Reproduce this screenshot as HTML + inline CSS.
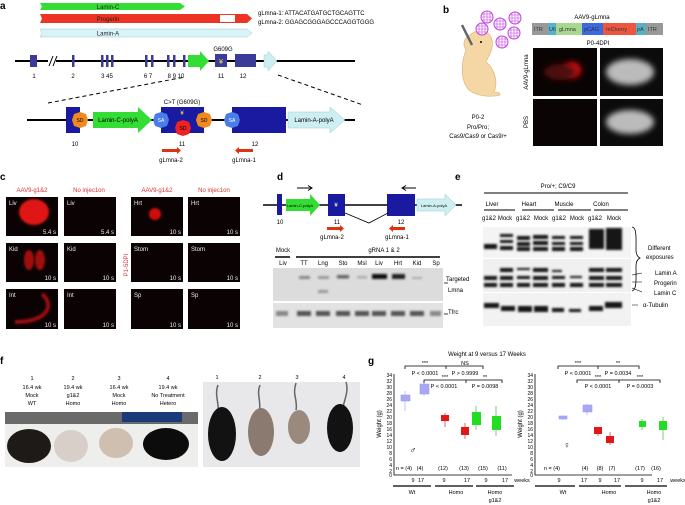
<!DOCTYPE html>
<html><head><meta charset="utf-8"><style>
html,body{margin:0;padding:0;background:#fff}
svg{display:block}
text{font-family:"Liberation Sans",Arial,sans-serif;}
</style></head><body>
<svg width="685" height="505" viewBox="0 0 685 505" xmlns="http://www.w3.org/2000/svg">
<defs>
<filter id="bl" x="-50%" y="-50%" width="200%" height="200%"><feGaussianBlur stdDeviation="3"/></filter>
<filter id="bl1" x="-50%" y="-50%" width="200%" height="200%"><feGaussianBlur stdDeviation="1"/></filter>
<g id="virus"><circle r="6" fill="#fff" stroke="#c040e0" stroke-width="1"/><path d="M-6,0H6M-5,-3H5M-5,3H5M-3,-5L-3,5M0,-6V6M3,-5V5" stroke="#c040e0" stroke-width="0.6"/></g>
</defs>
<rect width="685" height="505" fill="#fff"/>

<!-- ===== a ===== -->
<text x="0" y="9" font-size="10" font-weight="bold">a</text>
<polygon points="40,3 180,3 185,6.5 180,10 40,10 42,6.5" fill="#33dd33"/>
<text x="108" y="9" font-size="6" text-anchor="middle" fill="#222">Lamin-C</text>
<polygon points="40,14 247,14 252,18.5 247,23 40,23 42,18.5" fill="#ee3322"/>
<rect x="220" y="15" width="15" height="7" fill="#fff"/>
<text x="108" y="21" font-size="6" text-anchor="middle" fill="#222">Progerin</text>
<polygon points="40,29 247,29 252,33 247,37 40,37 42,33" fill="#d8f4f8" stroke="#9cc" stroke-width="0.5"/>
<text x="108" y="35.5" font-size="6" text-anchor="middle" fill="#222">Lamin-A</text>
<text x="258" y="15" font-size="6">gLmna-1: ATTACATGATGCTGCAGTTC</text>
<text x="258" y="24" font-size="6">gLmna-2: GGAGCGGGAGCCCAGGTGGG</text>

<line x1="15" y1="61" x2="355" y2="61" stroke="#000" stroke-width="2"/>
<g fill="#3b3b9a">
<rect x="30" y="55" width="7" height="12"/>
<rect x="72" y="55" width="2.5" height="12"/>
<rect x="101" y="55" width="2.5" height="12"/><rect x="106" y="55" width="2.5" height="12"/><rect x="111" y="55" width="2.5" height="12"/>
<rect x="145" y="55" width="2.5" height="12"/><rect x="151" y="55" width="2.5" height="12"/>
<rect x="167" y="55" width="2.5" height="12"/><rect x="173" y="55" width="2.5" height="12"/><rect x="183" y="55" width="2.5" height="12"/>
<rect x="215" y="54" width="12" height="13"/>
<rect x="235" y="54" width="21" height="13"/>
</g>
<rect x="48" y="56" width="8" height="10" fill="#fff"/>
<path d="M49,66L53,56M53,66L57,56" stroke="#000" stroke-width="1"/>
<polygon points="188,55 200,55 200,51 209,61 200,71 200,67 188,67" fill="#33dd33"/>
<polygon points="264,55 268,55 268,51 277,61 268,71 268,67 264,67" fill="#cdeff2" stroke="#9cc" stroke-width="0.5"/>
<text x="221" y="64" font-size="7" fill="#ee4" text-anchor="middle">¥</text>
<text x="223" y="51" font-size="6" text-anchor="middle">G609G</text>
<g font-size="6" text-anchor="middle">
<text x="34" y="78">1</text><text x="73" y="78">2</text><text x="107" y="78">3 45</text><text x="148" y="78">6 7</text><text x="176" y="78">8 9 10</text><text x="221" y="78">11</text><text x="243" y="78">12</text></g>
<path d="M48,103L185,77M278,75L363,105" stroke="#000" stroke-width="1" stroke-dasharray="4,3"/>

<line x1="27" y1="120" x2="355" y2="120" stroke="#000" stroke-width="2"/>
<rect x="66" y="107" width="14" height="26" fill="#1a1aa0"/>
<polygon points="93,112 138,112 138,107 152,120 138,133 138,128 93,128" fill="#33dd33"/>
<text x="118" y="122" font-size="6" text-anchor="middle">Lamin-C-polyA</text>
<rect x="161" y="107" width="43" height="26" fill="#1a1aa0"/>
<rect x="232" y="107" width="54" height="26" fill="#1a1aa0"/>
<polygon points="288,112 330,112 330,107 345,120 330,133 330,128 288,128" fill="#cdeff2" stroke="#9cc" stroke-width="0.5"/>
<text x="314" y="122" font-size="6" text-anchor="middle">Lamin-A-polyA</text>
<polygon points="80,112 86,114 88,120 86,126 80,128 74,126 72,120 74,114" fill="#f08a20"/><text x="80" y="122" font-size="5" text-anchor="middle">SD</text>
<polygon points="161,112 167,114 169,120 167,126 161,128 155,126 153,120 155,114" fill="#4a7de8"/><text x="161" y="122" font-size="5" text-anchor="middle" fill="#fff">SA</text>
<polygon points="183,120 189,122 191,128 189,134 183,136 177,134 175,128 177,122" fill="#ee2222"/><text x="183" y="130" font-size="5" text-anchor="middle">SD</text>
<polygon points="204,112 210,114 212,120 210,126 204,128 198,126 196,120 198,114" fill="#f08a20"/><text x="204" y="122" font-size="5" text-anchor="middle">SD</text>
<polygon points="232,112 238,114 240,120 238,126 232,128 226,126 224,120 226,114" fill="#4a7de8"/><text x="232" y="122" font-size="5" text-anchor="middle" fill="#fff">SA</text>
<text x="182" y="115" font-size="6" fill="#ee4" text-anchor="middle">¥</text>
<text x="182" y="104" font-size="6" text-anchor="middle">C&gt;T (G609G)</text>
<g font-size="6" text-anchor="middle"><text x="75" y="146">10</text><text x="182" y="146">11</text><text x="255" y="146">12</text></g>
<polygon points="162,149 177,149 177,147 181,150.5 177,154 177,152 162,152" fill="#dd3311"/>
<polygon points="253,149 239,149 239,147 235,150.5 239,154 239,152 253,152" fill="#dd3311"/>
<text x="171" y="162" font-size="6" text-anchor="middle">gLmna-2</text>
<text x="244" y="162" font-size="6" text-anchor="middle">gLmna-1</text>

<!-- ===== b ===== -->
<text x="443" y="13" font-size="10" font-weight="bold">b</text>
<path d="M470,35 C478,28 490,30 492,40 C494,50 488,56 486,62 C496,70 498,84 494,92 C502,92 502,96 495,96 C482,97 470,94 466,86 C460,76 462,60 466,50 C462,44 464,38 470,35Z" fill="#f4d7a4" stroke="#d4b07a" stroke-width="0.6"/>
<circle cx="481" cy="42" r="1" fill="#000"/>
<line x1="462" y1="25" x2="472" y2="45" stroke="#666" stroke-width="2.5"/>
<use href="#virus" x="487" y="17"/><use href="#virus" x="515" y="18"/><use href="#virus" x="482" y="29"/><use href="#virus" x="500" y="24"/><use href="#virus" x="514" y="33"/><use href="#virus" x="502" y="42"/>
<text x="478" y="119" font-size="6" text-anchor="middle">P0-2</text>
<text x="478" y="129" font-size="6" text-anchor="middle">Pro/Pro;</text>
<text x="478" y="138" font-size="6" text-anchor="middle">Cas9/Cas9 or Cas9/+</text>
<text x="592" y="19" font-size="6" text-anchor="middle">AAV9-gLmna</text>
<rect x="532" y="23" width="16" height="12" fill="#999"/><rect x="548" y="23" width="8" height="12" fill="#5ab0d0"/>
<rect x="556" y="23" width="26" height="12" fill="#a8d890"/><rect x="582" y="23" width="21" height="12" fill="#3a6ae0"/>
<rect x="603" y="23" width="33" height="12" fill="#ee5540"/><rect x="636" y="23" width="10" height="12" fill="#5ab0c0"/><rect x="646" y="23" width="17" height="12" fill="#999"/>
<g font-size="5.5" fill="#333"><text x="534" y="31">ITR</text><text x="549" y="31">U6</text><text x="559" y="31">gLmna</text><text x="584" y="31">pCAG</text><text x="606" y="31">mCherry</text><text x="637" y="31">pA</text><text x="648" y="31">ITR</text></g>
<text x="598" y="45" font-size="6" text-anchor="middle">P0-4DPI</text>
<rect x="533" y="48" width="64" height="48" fill="#0a0303"/>
<ellipse cx="572" cy="70" rx="9" ry="8" fill="#e01010" filter="url(#bl)"/>
<ellipse cx="560" cy="72" rx="16" ry="8" fill="#501010" filter="url(#bl)"/>
<rect x="600" y="48" width="63" height="48" fill="#0b0b0b"/>
<ellipse cx="630" cy="72" rx="24" ry="13" fill="#bbb" filter="url(#bl)"/>
<rect x="533" y="99" width="64" height="47" fill="#0a0404"/>
<rect x="600" y="99" width="63" height="47" fill="#0b0b0b"/>
<ellipse cx="630" cy="122" rx="24" ry="12" fill="#bbb" filter="url(#bl)"/>
<text transform="translate(528,72) rotate(-90)" font-size="6" text-anchor="middle">AAV9-gLmna</text>
<text transform="translate(528,122) rotate(-90)" font-size="6" text-anchor="middle">PBS</text>

<!-- ===== c ===== -->
<text x="0" y="180" font-size="10" font-weight="bold">c</text>
<g font-size="6" fill="#e03030" text-anchor="middle">
<text x="32" y="192">AAV9-g1&amp;2</text><text x="89" y="192">No injec1on</text><text x="157" y="192">AAV9-g1&amp;2</text><text x="214" y="192">No injec1on</text></g>
<text transform="translate(128,265) rotate(-90)" font-size="6" fill="#e03030" text-anchor="middle">P1-5DPI</text>
<g fill="#0b0303">
<rect x="6" y="197" width="52" height="39"/><rect x="64" y="197" width="52" height="39"/><rect x="131" y="197" width="52" height="39"/><rect x="188" y="197" width="52" height="39"/>
<rect x="6" y="243" width="52" height="39"/><rect x="64" y="243" width="52" height="39"/><rect x="131" y="243" width="52" height="39"/><rect x="188" y="243" width="52" height="39"/>
<rect x="6" y="289" width="52" height="40"/><rect x="64" y="289" width="52" height="40"/><rect x="131" y="289" width="52" height="40"/><rect x="188" y="289" width="52" height="40"/>
</g>
<ellipse cx="34" cy="212" rx="15" ry="13" fill="#e01515" filter="url(#bl1)"/>
<ellipse cx="155" cy="214" rx="6" ry="6" fill="#d01010" filter="url(#bl1)"/>
<ellipse cx="29" cy="260" rx="5" ry="10" fill="#a01010" filter="url(#bl1)"/><ellipse cx="40" cy="260" rx="5" ry="10" fill="#a01010" filter="url(#bl1)"/>
<path d="M42,294 C55,305 48,322 15,322" stroke="#9a1010" stroke-width="4" fill="none" filter="url(#bl1)"/>
<g font-size="6" fill="#eee">
<text x="9" y="205">Liv</text><text x="67" y="205">Liv</text><text x="134" y="205">Hrt</text><text x="191" y="205">Hrt</text>
<text x="9" y="251">Kid</text><text x="67" y="251">Kid</text><text x="134" y="251">Stom</text><text x="191" y="251">Stom</text>
<text x="9" y="297">Int</text><text x="67" y="297">Int</text><text x="134" y="297">Sp</text><text x="191" y="297">Sp</text>
<text x="56" y="234" text-anchor="end">5.4 s</text><text x="114" y="234" text-anchor="end">5.4 s</text><text x="181" y="234" text-anchor="end">10 s</text><text x="238" y="234" text-anchor="end">10 s</text>
<text x="56" y="280" text-anchor="end">10 s</text><text x="114" y="280" text-anchor="end">10 s</text><text x="181" y="280" text-anchor="end">10 s</text><text x="238" y="280" text-anchor="end">10 s</text>
<text x="56" y="327" text-anchor="end">10 s</text><text x="114" y="327" text-anchor="end">10 s</text><text x="181" y="327" text-anchor="end">10 s</text><text x="238" y="327" text-anchor="end">10 s</text></g>

<!-- ===== d ===== -->
<text x="277" y="180" font-size="10" font-weight="bold">d</text>
<line x1="263" y1="205" x2="462" y2="205" stroke="#000" stroke-width="1.5"/>
<rect x="277" y="194" width="5" height="21" fill="#1a1aa0"/>
<polygon points="286,199 310,199 310,194 320,205 310,216 310,211 286,211" fill="#33dd33"/>
<text x="300" y="207" font-size="4" text-anchor="middle">Lamin-C-polyA</text>
<rect x="328" y="194" width="17" height="22" fill="#1a1aa0"/><text x="336" y="207" font-size="6" fill="#fff" text-anchor="middle">¥</text>
<rect x="387" y="194" width="28" height="22" fill="#1a1aa0"/>
<polygon points="417,199 445,199 445,194 456,205 445,216 445,211 417,211" fill="#cdeff2" stroke="#9cc" stroke-width="0.5"/>
<text x="434" y="207" font-size="4" text-anchor="middle">Lamin-A-polyA</text>
<path d="M345,213L369,223L388,213" stroke="#000" stroke-width="0.8" fill="none"/>
<path d="M297,188H311M308,185.5L312,188L308,190.5" stroke="#000" stroke-width="1" fill="none"/>
<path d="M403,188H416M406,185.5L402,188L406,190.5" stroke="#000" stroke-width="1" fill="none"/>
<g font-size="6" text-anchor="middle"><text x="280" y="224">10</text><text x="337" y="224">11</text><text x="401" y="224">12</text></g>
<polygon points="327,227 340,227 340,225 344,228.5 340,232 340,230 327,230" fill="#dd3311"/>
<polygon points="405,227 393,227 393,225 389,228.5 393,232 393,230 405,230" fill="#dd3311"/>
<text x="332" y="239" font-size="6" text-anchor="middle">gLmna-2</text>
<text x="397" y="239" font-size="6" text-anchor="middle">gLmna-1</text>
<text x="283" y="252" font-size="6" text-anchor="middle">Mock</text>
<text x="384" y="252" font-size="6" text-anchor="middle">gRNA 1 &amp; 2</text>
<line x1="275" y1="257" x2="290" y2="257" stroke="#000" stroke-width="1.5"/>
<line x1="296" y1="257" x2="440" y2="257" stroke="#000" stroke-width="1.5"/>
<g font-size="6" text-anchor="middle"><text x="283" y="265">Liv</text><text x="304" y="265">TT</text><text x="323" y="265">Lng</text><text x="343" y="265">Sto</text><text x="362" y="265">Msl</text><text x="379" y="265">Liv</text><text x="398" y="265">Hrt</text><text x="417" y="265">Kid</text><text x="436" y="265">Sp</text></g>
<rect x="273" y="268" width="170" height="33" fill="#dcdcdc"/>
<rect x="273" y="303" width="170" height="25" fill="#e2e2e2"/>
<g fill="#444" filter="url(#bl1)">
<rect x="299" y="276" width="11" height="3" fill="#888"/><rect x="318" y="276" width="11" height="3" fill="#999"/><rect x="337" y="275" width="12" height="3.5" fill="#666"/><rect x="357" y="276" width="10" height="2.5" fill="#aaa"/>
<rect x="372" y="274" width="15" height="5" fill="#111"/><rect x="392" y="274" width="13" height="5" fill="#222"/><rect x="412" y="277" width="10" height="2" fill="#aaa"/>
<rect x="318" y="290" width="10" height="3" fill="#999"/>
</g>
<g fill="#555" filter="url(#bl1)">
<rect x="276" y="311" width="12" height="5" fill="#888"/><rect x="297" y="311" width="14" height="5"/><rect x="316" y="311" width="14" height="5"/><rect x="336" y="311" width="14" height="5"/><rect x="355" y="311" width="14" height="5"/><rect x="372" y="311" width="14" height="5"/><rect x="391" y="311" width="14" height="5"/><rect x="410" y="311" width="14" height="5"/><rect x="430" y="311" width="11" height="5" fill="#888"/></g>
<text x="446" y="281" font-size="6">Targeted</text><text x="448" y="292" font-size="6">Lmna</text>
<path d="M444,283h4M444,314h4" stroke="#000" stroke-width="0.8"/>
<text x="448" y="314" font-size="6">Tfrc</text>

<!-- ===== e ===== -->
<text x="455" y="180" font-size="10" font-weight="bold">e</text>
<text x="558" y="188" font-size="6" text-anchor="middle">Pro/+; C9/C9</text>
<line x1="484" y1="193" x2="628" y2="193" stroke="#000" stroke-width="1"/>
<g font-size="6" text-anchor="middle"><text x="492" y="206">Liver</text><text x="529" y="206">Heart</text><text x="564" y="206">Muscle</text><text x="601" y="206">Colon</text></g>
<path d="M484,210h31M522,210h32M558,210h33M594,210h34" stroke="#000" stroke-width="1"/>
<g font-size="6" text-anchor="middle"><text x="489" y="220">g1&amp;2</text><text x="505" y="220">Mock</text><text x="523" y="220">g1&amp;2</text><text x="541" y="220">Mock</text><text x="559" y="220">g1&amp;2</text><text x="577" y="220">Mock</text><text x="595" y="220">g1&amp;2</text><text x="614" y="220">Mock</text></g>
<rect x="483" y="227" width="148" height="31" fill="#f4f4f4"/>
<rect x="483" y="259" width="148" height="33" fill="#f0f0f0"/>
<rect x="483" y="293" width="148" height="33" fill="#f2f2f2"/>
<g fill="#151515" filter="url(#bl1)">
<rect x="484" y="244" width="13" height="5"/>
<rect x="500" y="234" width="13" height="3"/><rect x="500" y="240" width="13" height="3"/><rect x="500" y="246" width="13" height="4"/>
<rect x="517" y="236" width="13" height="4"/><rect x="517" y="242" width="13" height="4"/><rect x="517" y="247" width="13" height="4"/>
<rect x="533" y="235" width="15" height="4"/><rect x="533" y="241" width="15" height="4"/><rect x="533" y="247" width="15" height="4"/>
<rect x="552" y="236" width="13" height="3"/><rect x="552" y="242" width="13" height="3"/><rect x="552" y="247" width="13" height="4"/>
<rect x="570" y="236" width="13" height="3"/><rect x="570" y="242" width="13" height="3"/><rect x="570" y="247" width="13" height="4"/>
<rect x="589" y="229" width="15" height="20"/><rect x="606" y="228" width="16" height="22"/>
<rect x="484" y="276" width="13" height="4"/><rect x="484" y="283" width="13" height="4"/>
<rect x="500" y="268" width="13" height="4"/><rect x="500" y="276" width="13" height="4"/><rect x="500" y="283" width="13" height="4"/>
<rect x="517" y="268" width="13" height="2"/><rect x="517" y="276" width="13" height="3"/><rect x="517" y="283" width="13" height="4"/>
<rect x="533" y="268" width="15" height="4"/><rect x="533" y="276" width="15" height="4"/><rect x="533" y="283" width="15" height="4"/>
<rect x="552" y="270" width="10" height="2"/><rect x="552" y="276" width="13" height="3"/><rect x="552" y="283" width="13" height="4"/>
<rect x="570" y="276" width="12" height="2"/><rect x="570" y="283" width="13" height="4"/>
<rect x="589" y="268" width="15" height="4"/><rect x="589" y="276" width="15" height="4"/><rect x="589" y="283" width="15" height="4"/>
<rect x="606" y="268" width="16" height="4"/><rect x="606" y="276" width="16" height="4"/><rect x="606" y="283" width="16" height="4"/>
<rect x="484" y="303" width="15" height="5"/><rect x="501" y="306" width="14" height="5"/><rect x="518" y="306" width="14" height="6"/><rect x="534" y="306" width="14" height="6"/><rect x="552" y="308" width="12" height="4"/><rect x="569" y="309" width="12" height="3"/><rect x="589" y="306" width="14" height="5"/><rect x="605" y="302" width="17" height="6"/>
</g>
<path d="M632,227 C637,227 636,240 636,250 C636,255 638,257 640,258 C638,259 636,261 636,266 C636,278 637,290 632,291" stroke="#000" stroke-width="0.8" fill="none"/>
<text x="648" y="250" font-size="6">Different</text><text x="646" y="259" font-size="6">exposures</text>
<path d="M632,275l10,-2M632,282h10M632,288l10,4M632,305h6" stroke="#000" stroke-width="0.6"/>
<text x="655" y="275" font-size="6">Lamin A</text><text x="654" y="285" font-size="6">Progerin</text><text x="654" y="295" font-size="6">Lamin C</text><text x="643" y="307" font-size="6">α-Tubulin</text>

<!-- ===== f ===== -->
<text x="0" y="364" font-size="10" font-weight="bold">f</text>
<g font-size="5.5" text-anchor="middle">
<text x="32" y="380">1</text><text x="32" y="389">16.4 wk</text><text x="32" y="397">Mock</text><text x="32" y="405">WT</text>
<text x="73" y="380">2</text><text x="73" y="389">19.4 wk</text><text x="73" y="397">g1&amp;2</text><text x="73" y="405">Homo</text>
<text x="119" y="380">3</text><text x="119" y="389">16.4 wk</text><text x="119" y="397">Mock</text><text x="119" y="405">Homo</text>
<text x="168" y="380">4</text><text x="168" y="389">19.4 wk</text><text x="168" y="397">No Treatment</text><text x="168" y="405">Hetero</text>
<text x="217" y="379">1</text><text x="260" y="379">2</text><text x="297" y="379">3</text><text x="344" y="379">4</text></g>
<rect x="5" y="412" width="193" height="55" fill="#eeeeec"/>
<rect x="5" y="412" width="193" height="12" fill="#6a6a6a"/>
<rect x="122" y="412" width="60" height="10" fill="#1a3a7a"/>
<ellipse cx="29" cy="446" rx="22" ry="17" fill="#1e1a18"/>
<ellipse cx="71" cy="446" rx="17" ry="16" fill="#d8d0c8"/>
<ellipse cx="116" cy="443" rx="17" ry="15" fill="#cfbfb0"/>
<ellipse cx="166" cy="444" rx="23" ry="16" fill="#0c0c0c"/>
<rect x="203" y="382" width="157" height="85" fill="#e8e8ea"/>
<path d="M218,385 C214,395 220,405 218,415M260,385 C256,395 262,400 259,415M296,383 C292,395 298,400 296,410M346,382 C350,395 340,405 344,414" stroke="#666" stroke-width="1.5" fill="none"/>
<ellipse cx="222" cy="434" rx="14" ry="27" fill="#121212"/>
<ellipse cx="261" cy="432" rx="13" ry="24" fill="#8a7a70"/>
<ellipse cx="299" cy="427" rx="11" ry="17" fill="#9a8a7e"/>
<ellipse cx="340" cy="428" rx="13" ry="24" fill="#121212"/>

<!-- ===== g ===== -->
<text x="368" y="364" font-size="10" font-weight="bold" font-family="Liberation Serif,serif">g</text>
<text x="487" y="356" font-size="6" text-anchor="middle">Weight at 9 versus 17 Weeks</text>
<!-- left axis -->
<g font-size="5" text-anchor="end">
<text x="392" y="377">34</text><text x="392" y="383">32</text><text x="392" y="389">30</text><text x="392" y="395">28</text><text x="392" y="401">26</text><text x="392" y="407">24</text><text x="392" y="413">22</text><text x="392" y="419">20</text><text x="392" y="425">18</text><text x="392" y="431">16</text><text x="392" y="437">14</text><text x="392" y="443">12</text><text x="392" y="449">10</text><text x="392" y="455">8</text><text x="392" y="461">6</text><text x="392" y="467">4</text><text x="392" y="473">2</text><text x="392" y="477">0</text>
<text x="533" y="377">34</text><text x="533" y="383">32</text><text x="533" y="389">30</text><text x="533" y="395">28</text><text x="533" y="401">26</text><text x="533" y="407">24</text><text x="533" y="413">22</text><text x="533" y="419">20</text><text x="533" y="425">18</text><text x="533" y="431">16</text><text x="533" y="437">14</text><text x="533" y="443">12</text><text x="533" y="449">10</text><text x="533" y="455">8</text><text x="533" y="461">6</text><text x="533" y="467">4</text><text x="533" y="473">2</text><text x="533" y="477">0</text></g>
<path d="M394,374V475H512M535,374V475H652" stroke="#000" stroke-width="0.8" fill="none"/>
<text transform="translate(381,424) rotate(-90)" font-size="6" text-anchor="middle">Weight (g)</text>
<text transform="translate(522,424) rotate(-90)" font-size="6" text-anchor="middle">Weight (g)</text>
<!-- left boxes: y=475-2.97w -->
<g stroke-width="0.6">
<line x1="405" y1="391" x2="405" y2="411" stroke="#99f"/><rect x="401" y="395" width="9" height="6" fill="#a8a8f0" stroke="#99f"/>
<line x1="424" y1="382" x2="424" y2="396" stroke="#99f"/><rect x="420" y="384" width="9" height="10" fill="#a8a8f0" stroke="#99f"/>
<line x1="445" y1="413" x2="445" y2="427" stroke="#c00"/><rect x="441" y="415" width="8" height="6" fill="#e01818"/>
<line x1="465" y1="423" x2="465" y2="439" stroke="#c00"/><rect x="461" y="427" width="8" height="8" fill="#e01818"/>
<line x1="476" y1="406" x2="476" y2="430" stroke="#2a2"/><rect x="472" y="412" width="9" height="13" fill="#22dd22"/>
<line x1="496" y1="406" x2="496" y2="436" stroke="#2a2"/><rect x="492" y="416" width="9" height="14" fill="#22dd22"/>
<line x1="563" y1="416" x2="563" y2="420" stroke="#99f"/><rect x="559" y="416" width="8" height="3" fill="#a8a8f0" stroke="#99f"/>
<line x1="587" y1="404" x2="587" y2="415" stroke="#99f"/><rect x="583" y="405" width="9" height="7" fill="#a8a8f0" stroke="#99f"/>
<line x1="598" y1="427" x2="598" y2="436" stroke="#c00"/><rect x="594" y="427" width="8" height="7" fill="#e01818"/>
<line x1="610" y1="432" x2="610" y2="445" stroke="#c00"/><rect x="606" y="436" width="8" height="7" fill="#e01818"/>
<line x1="642" y1="419" x2="642" y2="430" stroke="#2a2"/><rect x="639" y="421" width="7" height="6" fill="#22dd22"/>
<line x1="663" y1="417" x2="663" y2="440" stroke="#2a2"/><rect x="659" y="421" width="8" height="9" fill="#22dd22"/>
</g>
<text x="413" y="453" font-size="9" text-anchor="middle">♂</text>
<text x="567" y="448" font-size="9" text-anchor="middle">♀</text>
<!-- brackets -->
<g stroke="#000" stroke-width="0.8" fill="none">
<path d="M405,369V366H446V369M446,369V366H483V369M424,383V380H466V383M466,383V380H502V383"/>
<path d="M558,369V366H598V369M598,369V366H639V369M577,383V380H619V383M619,383V380H660V383"/></g>
<g font-size="5.5" text-anchor="middle">
<text x="425" y="365">***</text><text x="465" y="365">NS</text><text x="445" y="379">***</text><text x="485" y="379">**</text>
<text x="425" y="375">P &lt; 0.0001</text><text x="465" y="375">P &gt; 0.9999</text><text x="444" y="388">P &lt; 0.0001</text><text x="485" y="388">P = 0.0098</text>
<text x="578" y="365">***</text><text x="618" y="365">**</text><text x="598" y="379">***</text><text x="640" y="379">***</text>
<text x="578" y="375">P &lt; 0.0001</text><text x="618" y="375">P = 0.0034</text><text x="598" y="388">P &lt; 0.0001</text><text x="640" y="388">P = 0.0003</text>
<text x="404" y="470">n = (4)</text><text x="420" y="470">(4)</text><text x="443" y="470">(12)</text><text x="464" y="470">(13)</text><text x="483" y="470">(15)</text><text x="502" y="470">(11)</text>
<text x="552" y="470">n = (4)</text><text x="585" y="470">(4)</text><text x="600" y="470">(8)</text><text x="612" y="470">(7)</text><text x="640" y="470">(17)</text><text x="656" y="470">(16)</text>
<text x="413" y="482">9</text><text x="421" y="482">17</text><text x="444" y="482">9</text><text x="467" y="482">17</text><text x="486" y="482">9</text><text x="505" y="482">17</text><text x="522" y="482">weeks</text>
<text x="559" y="482">9</text><text x="584" y="482">17</text><text x="600" y="482">9</text><text x="617" y="482">17</text><text x="642" y="482">9</text><text x="660" y="482">17</text><text x="678" y="482">weeks</text>
<text x="412" y="494">Wt</text><text x="456" y="494">Homo</text><text x="495" y="494">Homo</text><text x="495" y="502">g1&amp;2</text>
<text x="563" y="494">Wt</text><text x="609" y="494">Homo</text><text x="654" y="494">Homo</text><text x="654" y="502">g1&amp;2</text></g>
<path d="M393,486h38M435,486h38M476,486h38M535,486h40M579,486h42M625,486h42" stroke="#000" stroke-width="1.2"/>
</svg>
</body></html>
